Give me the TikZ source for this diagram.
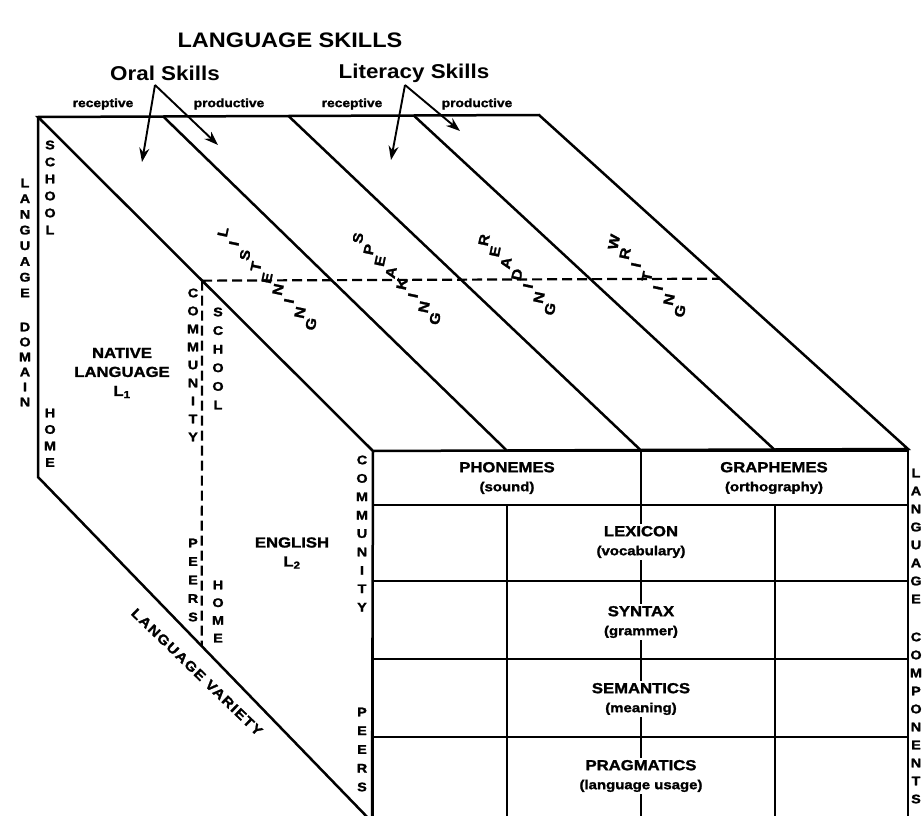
\documentclass[tikz,border=0pt]{standalone}
\usepackage{fontspec}
\setmainfont{Liberation Sans}
\newfontfamily\widefont[FakeStretch=1.15,BoldFeatures={FakeBold=1.6}]{Liberation Sans}
\newfontfamily\headfont[FakeStretch=1.12]{Liberation Sans}
\usetikzlibrary{calc,arrows.meta}

% letters stacked downwards: name, x, first y, step, letters
\newcommand\stackword[5]{%
  \foreach \ch [count=\k from 0] in {#5}
    \node[vlet] (#1\k) at (#2,{#3+\k*#4}) {\ch};}
% letters running down the top face: name, x, y, letters
\newcommand\slantword[4]{%
  \foreach \ch [count=\k from 0] in {#4}
    \node[vlet,font=\widefont\bfseries\fontsize{14}{14}\selectfont,rotate=78]
      (#1\k) at ({#2+\k*11},{#3+\k*11.5}) {\ch};}
\newcommand\paren[1]{{\fontsize{13}{19}\selectfont #1}}

\begin{document}
\begin{tikzpicture}[x=1pt,y=-1pt,line join=miter,
  edge/.style={line width=2.5pt},
  hidden/.style={line width=2.2pt,dash pattern=on 10pt off 5pt},
  pointer/.style={line width=1.9pt,-{Stealth[length=14pt,width=10pt]}},
  vlet/.style={font=\widefont\bfseries\fontsize{12.5}{13}\selectfont,inner sep=0pt},
  cell/.style={font=\widefont\bfseries\fontsize{14.5}{19}\selectfont,align=center,fill=white,inner sep=2pt},
  tag/.style={font=\widefont\bfseries\fontsize{12}{12}\selectfont,inner sep=1pt},
  head/.style={font=\headfont\bfseries\fontsize{21}{24}\selectfont}]
\fill[white] (0,0) rectangle (924,816);
\useasboundingbox (0,0) rectangle (924,816);

% corners of the block
\coordinate (btl) at (38,117);
\coordinate (btr) at (539,115);
\coordinate (ftl) at (373,451);
\coordinate (ftr) at (908,449);
\coordinate (bbl) at (38,477);
\coordinate (fbl) at (372,822);
\coordinate (fbr) at (908,822);

% headings
\node[head] (skills) at (290,40) {LANGUAGE SKILLS};
\node[head,font=\headfont\bfseries\fontsize{20}{24}\selectfont] (oral) at (165,73) {Oral Skills};
\node[head,font=\headfont\bfseries\fontsize{20}{24}\selectfont] (literacy) at (414,73) {Literacy Skills};
\node[tag] (rec1) at (103,104) {receptive};
\node[tag] (prod1) at (229,104) {productive};
\node[tag] (rec2) at (352,104) {receptive};
\node[tag] (prod2) at (477,104) {productive};

% faces
\draw[edge] (btl) -- (btr) -- (ftr) -- (ftl) -- cycle;
\draw[edge] (btl) -- (bbl) -- (fbl) -- (ftl);
\draw[edge] (ftl) rectangle (fbr);
\foreach \f in {0.25,0.5,0.75}
  \draw[edge] ($(btl)!\f!(btr)$) -- ($(ftl)!\f!(ftr)$);

% hidden middle plane
\coordinate (ml) at ($(btl)!0.49!(ftl)$);
\coordinate (mr) at ($(btr)!0.49!(ftr)$);
\coordinate (mb) at ($(bbl)!0.49!(fbl)$);
\draw[hidden] (ml) -- (mr);
\draw[hidden] (ml) -- (mb);

% arrows
\coordinate (oraltop) at (155,85);
\coordinate (littop) at (405,85);
\draw[pointer] (oraltop) -- (142,162);
\draw[pointer] (oraltop) -- (218,145);
\draw[pointer] (littop) -- (391,160);
\draw[pointer] (littop) -- (460,131);

% front grid
\foreach \y in {505,581,659,737}
  \draw[edge] (373,\y) -- (908,\y);
\draw[edge] (641,451) -- (641,822);
\foreach \x in {507,775}
  \draw[edge] (\x,505) -- (\x,822);
\node[cell] (phon) at (507,478) {PHONEMES\\\paren{(sound)}};
\node[cell] (graph) at (774,478) {GRAPHEMES\\\paren{(orthography)}};
\node[cell] (lex) at (641,542) {LEXICON\\\paren{(vocabulary)}};
\node[cell] (syn) at (641,622) {SYNTAX\\\paren{(grammer)}};
\node[cell] (sem) at (641,699) {SEMANTICS\\\paren{(meaning)}};
\node[cell] (prag) at (641,776) {PRAGMATICS\\\paren{(language usage)}};

% left face
\node[cell,fill=none] (native) at (122,373) {NATIVE\\LANGUAGE\\L\textsubscript{1}};
\node[cell,fill=none] (english) at (292,553) {ENGLISH\\L\textsubscript{2}};
\node[vlet,font=\widefont\bfseries\fontsize{13.5}{14}\selectfont,rotate=-44] (variety) at (197,672)
  {\addfontfeatures{LetterSpace=9}LANGUAGE VARIETY};

% stacked words
\stackword{lang}{25}{183}{15.7}{L,A,N,G,U,A,G,E}
\stackword{dom}{25}{327}{15}{D,O,M,A,I,N}
\stackword{schA}{50}{145}{17}{S,C,H,O,O,L}
\stackword{homeA}{50}{413}{16.5}{H,O,M,E}
\stackword{comA}{193}{293}{18}{C,O,M,M,U,N,I,T,Y}
\stackword{schB}{218}{312}{18.6}{S,C,H,O,O,L}
\stackword{peerA}{193}{543}{18.5}{P,E,E,R,S}
\stackword{homeB}{218}{585}{17.7}{H,O,M,E}
\stackword{comB}{362}{460}{18.4}{C,O,M,M,U,N,I,T,Y}
\stackword{peerB}{362}{712}{18.75}{P,E,E,R,S}
\stackword{compA}{916}{473}{18}{L,A,N,G,U,A,G,E}
\stackword{compB}{916}{637}{18}{C,O,M,P,O,N,E,N,T,S}

% skills on the top face
\slantword{listen}{223}{232}{L,I,S,T,E,N,I,N,G}
\slantword{speak}{358}{238}{S,P,E,A,K,I,N,G}
\slantword{read}{484}{240}{R,E,A,D,I,N,G}
\slantword{write}{614}{242}{W,R,I,T,I,N,G}
\end{tikzpicture}
\end{document}
